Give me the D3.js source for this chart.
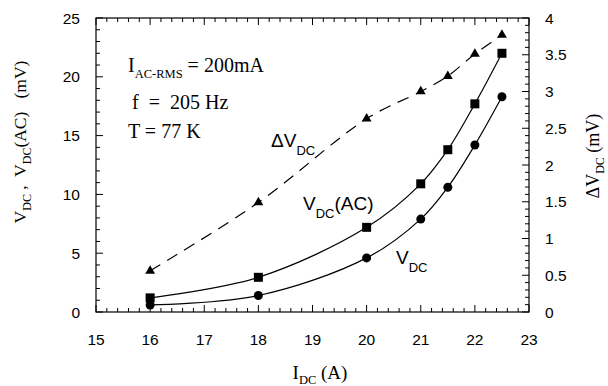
<!DOCTYPE html>
<html><head><meta charset="utf-8">
<script src="https://cdn.jsdelivr.net/npm/d3@7"></script>
<style>body{margin:0;background:#fff}</style>
</head><body>
<svg id="c" width="608" height="386"></svg>
<script>
const xVals = [16, 18, 20, 21, 21.5, 22, 22.5];
const vdc = [0.6, 1.4, 4.6, 7.9, 10.6, 14.2, 18.3];
const vdcAC = [1.2, 2.95, 7.2, 10.9, 13.8, 17.7, 22.0];
const deltaVdc = [0.56, 1.49, 2.63, 3.0, 3.21, 3.51, 3.77];
const xTicks = [15, 16, 17, 18, 19, 20, 21, 22, 23];
const yLeftTicks = [0, 5, 10, 15, 20, 25];
const yRightTicks = [0, 0.5, 1, 1.5, 2, 2.5, 3, 3.5, 4];
const yRightLabels = ["0", "0.5", "1", "1.5", "2", "2.5", "3", "3.5", "4"];

const svg = d3.select("#c");
const L = 96, R = 529, T = 18, B = 312;
const x = d3.scaleLinear().domain([15, 23]).range([L, R]);
const yL = d3.scaleLinear().domain([0, 25]).range([B, T]);
const yR = d3.scaleLinear().domain([0, 4]).range([B, T]);
const sans = "'Liberation Sans', Arial, sans-serif";
const serif = "'Liberation Serif', 'Times New Roman', serif";

// frame
svg.append("rect").attr("x", L).attr("y", T).attr("width", R - L).attr("height", B - T)
  .attr("fill", "none").attr("stroke", "#000").attr("stroke-width", 1.2);

const tg = svg.append("g").attr("stroke", "#000").attr("stroke-width", 1);
d3.range(15, 23.001, 0.2).forEach(v => {
  const major = Math.abs(v - Math.round(v)) < 1e-6;
  const len = major ? 7 : 4;
  const px = x(v);
  tg.append("line").attr("x1", px).attr("x2", px).attr("y1", B).attr("y2", B - len);
  tg.append("line").attr("x1", px).attr("x2", px).attr("y1", T).attr("y2", T + len);
});
d3.range(0, 25.001, 1).forEach(v => {
  const major = v % 5 === 0;
  const len = major ? 7 : 4;
  tg.append("line").attr("x1", L).attr("x2", L + len).attr("y1", yL(v)).attr("y2", yL(v));
});
d3.range(0, 4.0001, 0.1).forEach(v => {
  const major = Math.abs(v * 2 - Math.round(v * 2)) < 1e-6;
  const len = major ? 7 : 4;
  tg.append("line").attr("x1", R).attr("x2", R - len).attr("y1", yR(v)).attr("y2", yR(v));
});

// tick labels
const tfs = 15.5;
svg.append("g").selectAll("text").data(xTicks).join("text")
  .attr("x", d => x(d)).attr("y", 345).attr("text-anchor", "middle")
  .attr("font-family", sans).attr("font-size", tfs).text(d => d);
svg.append("g").selectAll("text").data(yLeftTicks).join("text")
  .attr("x", 80).attr("y", d => yL(d) + 5.5).attr("text-anchor", "end")
  .attr("font-family", sans).attr("font-size", tfs).text(d => d);
svg.append("g").selectAll("text").data(yRightTicks).join("text")
  .attr("x", 545).attr("y", d => yR(d) + 5.5).attr("text-anchor", "start")
  .attr("font-family", sans).attr("font-size", tfs).text((d, i) => yRightLabels[i]);

// lines
const lineL = d3.line().x((d, i) => x(xVals[i])).y(d => yL(d)).curve(d3.curveCatmullRom.alpha(0.5));
const lineR = d3.line().x((d, i) => x(xVals[i])).y(d => yR(d)).curve(d3.curveCatmullRom.alpha(0.5));
svg.append("path").attr("d", lineL(vdc)).attr("fill", "none").attr("stroke", "#000").attr("stroke-width", 1.2);
svg.append("path").attr("d", lineL(vdcAC)).attr("fill", "none").attr("stroke", "#000").attr("stroke-width", 1.2);
svg.append("path").attr("d", lineR(deltaVdc)).attr("fill", "none").attr("stroke", "#000").attr("stroke-width", 1.2)
  .attr("stroke-dasharray", "12,8");

// markers
svg.append("g").selectAll("circle").data(vdc).join("circle")
  .attr("cx", (d, i) => x(xVals[i])).attr("cy", d => yL(d)).attr("r", 4.5).attr("fill", "#000");
svg.append("g").selectAll("rect").data(vdcAC).join("rect")
  .attr("x", (d, i) => x(xVals[i]) - 4.5).attr("y", d => yL(d) - 4.5).attr("width", 9).attr("height", 9).attr("fill", "#000");
const tri = d3.symbol().type(d3.symbolTriangle).size(42);
svg.append("g").selectAll("path").data(deltaVdc).join("path")
  .attr("transform", (d, i) => `translate(${x(xVals[i])},${yR(d)})`).attr("d", tri()).attr("fill", "#000");

function sub(t, main, subtxt, rest, subSize, dy) {
  t.append("tspan").text(main);
  t.append("tspan").attr("dy", dy).attr("font-size", subSize).text(subtxt);
  if (rest) t.append("tspan").attr("dy", -dy).text(rest);
}
// annotations (serif)
let t1 = svg.append("text").attr("x", 128).attr("y", 72).attr("font-family", serif).attr("font-size", 20);
sub(t1, "I", "AC-RMS", " = 200mA", 12.5, 6);
svg.append("text").attr("x", 132).attr("y", 109).attr("font-family", serif).attr("font-size", 20)
  .attr("xml:space", "preserve").text("f  =  205 Hz");
svg.append("text").attr("x", 128).attr("y", 138).attr("font-family", serif).attr("font-size", 20).text("T = 77 K");

// series labels (sans)
let t2 = svg.append("text").attr("x", 271).attr("y", 147).attr("font-family", sans).attr("font-size", 19);
sub(t2, "ΔV", "DC", null, 13, 8);
let t3 = svg.append("text").attr("x", 303).attr("y", 210).attr("font-family", sans).attr("font-size", 19);
sub(t3, "V", "DC", "(AC)", 13, 8);
let t4 = svg.append("text").attr("x", 396).attr("y", 264).attr("font-family", sans).attr("font-size", 19);
sub(t4, "V", "DC", null, 13, 8);

// axis titles
let xt = svg.append("text").attr("x", 320).attr("y", 379).attr("text-anchor", "middle")
  .attr("font-family", serif).attr("font-size", 19);
sub(xt, "I", "DC", " (A)", 12.5, 5);

let ylt = svg.append("text").attr("transform", "translate(26,142) rotate(-90)").attr("text-anchor", "middle")
  .attr("font-family", serif).attr("font-size", 17.5).attr("xml:space", "preserve");
ylt.append("tspan").text("V");
ylt.append("tspan").attr("dy", 5).attr("font-size", 12).text("DC");
ylt.append("tspan").attr("dy", -5).text(" ,  V");
ylt.append("tspan").attr("dy", 5).attr("font-size", 12).text("DC");
ylt.append("tspan").attr("dy", -5).text("(AC)   (mV)");

let yrt = svg.append("text").attr("transform", "translate(599,156) rotate(-90)").attr("text-anchor", "middle")
  .attr("font-family", serif).attr("font-size", 18);
yrt.append("tspan").text("ΔV");
yrt.append("tspan").attr("dy", 5).attr("font-size", 12).text("DC");
yrt.append("tspan").attr("dy", -5).text(" (mV)");
</script>
</body></html>
